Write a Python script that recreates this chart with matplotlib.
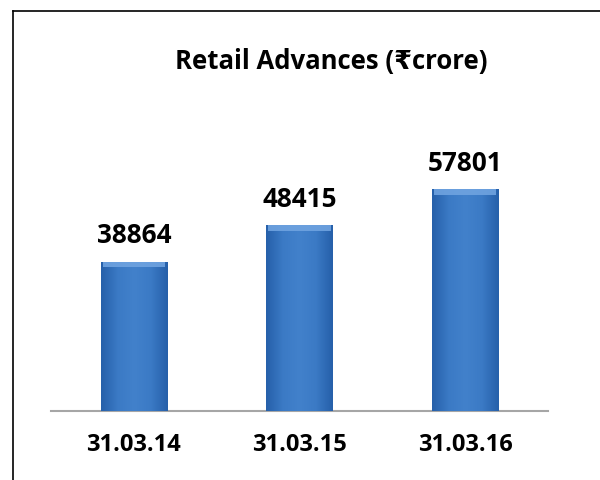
import numpy as np
import matplotlib.pyplot as plt
from matplotlib.colors import LinearSegmentedColormap

# data
dates = ['31.03.14', '31.03.15', '31.03.16']
advances = [38864, 48415, 57801]

plt.rcParams['font.family'] = ['Open Sans', 'DejaVu Sans']
plt.rcParams['font.weight'] = 'bold'

fig = plt.figure(figsize=(6, 4.8), dpi=100)
ax = fig.add_axes([51 / 600, 69 / 480, 497 / 600, 307 / 480])

x = np.arange(len(dates))
bars = ax.bar(x, advances, width=0.4, color='#3A78C4', zorder=2)

# shaded look on the bars (light top, darker edges)
cmap = LinearSegmentedColormap.from_list('bar', ['#2660AA', '#3B7AC5', '#4281CB', '#3B7AC5', '#2660AA'])
grad = np.linspace(0, 1, 100).reshape(1, -1)
for b in bars:
    x0, w, h = b.get_x(), b.get_width(), b.get_height()
    im = ax.imshow(grad, cmap=cmap, extent=[x0, x0 + w, 0, h], aspect='auto', zorder=3)
    im.set_clip_path(b)
    ax.fill_between([x0 + w * 0.03, x0 + w * 0.97], h, h - 1400,
                    color='#6FA3E0', alpha=0.9, zorder=4, linewidth=0)
    ax.text(x0 + w / 2, h + 3300, str(h), ha='center', va='bottom',
            fontsize=18.8, fontweight='bold', color='black')

ax.set_xlim(-0.5, 2.5)
ax.set_ylim(0, 80000)
ax.set_xticks(x)
ax.set_xticklabels(dates, fontsize=17, fontweight='bold')
ax.tick_params(axis='x', length=0, pad=16)
ax.set_yticks([])
for s in ['top', 'right', 'left']:
    ax.spines[s].set_visible(False)
ax.spines['bottom'].set_color('#A6A6A6')
ax.spines['bottom'].set_linewidth(1.5)

fig.text(331 / 600, 1 - 61 / 480, 'Retail Advances (₹crore)', ha='center', va='center',
         fontsize=18.5, fontweight='bold')

# frame lines (top and left)
fig.add_artist(plt.Line2D([13 / 600, 1], [1 - 11 / 480, 1 - 11 / 480], color='black', lw=1.2))
fig.add_artist(plt.Line2D([13 / 600, 13 / 600], [0, 1 - 11 / 480], color='black', lw=1.2))

fig.savefig('out.png', dpi=100)
